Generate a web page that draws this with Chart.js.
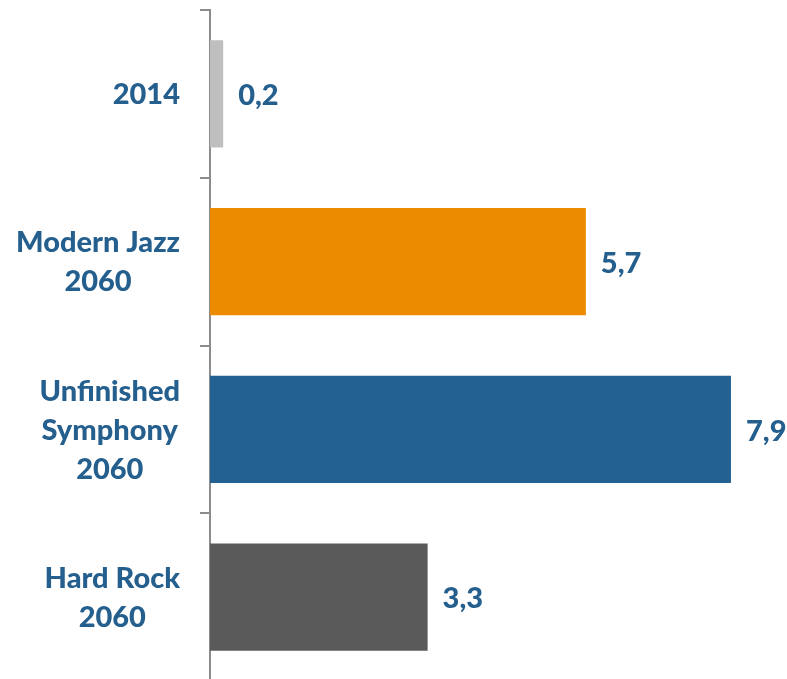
<!DOCTYPE html>
<html>
<head>
<meta charset="utf-8">
<script src="https://cdn.jsdelivr.net/npm/chart.js@4/dist/chart.umd.min.js"></script>
<style>
html,body{margin:0;padding:0;overflow:hidden;background:#fff;}
#wrap{position:relative;width:787px;height:681px;}
</style>
</head>
<body>
<div id="wrap"><canvas id="c"></canvas></div>
<script>
const categories = [["2014"], ["Modern Jazz", "2060"], ["Unfinished", "Symphony", "2060"], ["Hard Rock", "2060"]];
const values = [0.2, 5.7, 7.9, 3.3];
const valueLabels = ["0,2", "5,7", "7,9", "3,3"];
const barColors = ["#BFBFBF", "#ED8B00", "#236192", "#5A5A5A"];

const TEXT_COLOR = "#245F8E";
const FONT = "900 29px Lato";

const labelPlugin = {
  id: 'customLabels',
  afterDatasetsDraw(chart) {
    const ctx = chart.ctx;
    const yScale = chart.scales.y;
    const meta = chart.getDatasetMeta(0);
    ctx.save();
    ctx.font = FONT;
    ctx.fillStyle = TEXT_COLOR;
    ctx.textBaseline = 'middle';
    const rightEdge = chart.chartArea.left - 30;
    const lh = 39;
    categories.forEach((lines, i) => {
      const cy = yScale.getPixelForValue(i);
      let w = 0;
      lines.forEach(l => { w = Math.max(w, ctx.measureText(l).width); });
      const cx = rightEdge - w / 2;
      ctx.textAlign = 'center';
      lines.forEach((l, k) => {
        ctx.fillText(l, cx, cy + (k - (lines.length - 1) / 2) * lh + 1);
      });
    });
    ctx.textAlign = 'left';
    meta.data.forEach((bar, i) => {
      ctx.fillText(valueLabels[i], bar.x + 15, bar.y + 2);
    });
    ctx.restore();
  }
};

new Chart(document.getElementById('c'), {
  type: 'bar',
  data: {
    labels: categories,
    datasets: [{
      data: values,
      backgroundColor: barColors,
      borderWidth: 0,
      categoryPercentage: 1.0,
      barPercentage: 0.638
    }]
  },
  options: {
    indexAxis: 'y',
    responsive: true,
    maintainAspectRatio: false,
    animation: false,
    layout: { padding: { left: 200, right: 0, top: 10, bottom: 0 } },
    plugins: { legend: { display: false }, tooltip: { enabled: false } },
    scales: {
      x: {
        display: false,
        min: 0,
        max: 8.75
      },
      y: {
        type: 'category',
        offset: true,
        grid: {
          offset: true,
          drawOnChartArea: false,
          drawTicks: true,
          tickLength: 10,
          color: '#8C8C8C',
          lineWidth: 2
        },
        border: { display: true, color: '#8C8C8C', width: 2 },
        ticks: { display: false }
      }
    }
  },
  plugins: [labelPlugin]
});
</script>
</body>
</html>
